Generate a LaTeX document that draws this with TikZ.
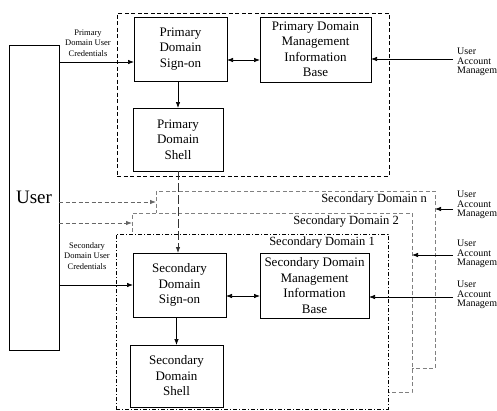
\documentclass[tikz,border=0pt]{standalone}
\usepackage{fontspec}
\setmainfont{Liberation Serif}
\usetikzlibrary{arrows.meta,calc}
\begin{document}
\begin{tikzpicture}[x=1pt,y=-1pt,
  box/.style={draw, line width=0.8pt, inner sep=0pt, outer sep=0pt, align=center,
    fill=white, anchor=north west, font=\fontsize{13}{15.5}\selectfont},
  frame/.style={inner sep=0pt, outer sep=0pt, anchor=north west},
  pdom/.style={frame, draw, line width=0.8pt, dash pattern=on 4pt off 2.5pt},
  sdom/.style={frame, draw=gray, fill=white, line width=0.8pt, dash pattern=on 4pt off 2.5pt},
  sdone/.style={frame, draw, fill=white, line width=0.8pt, dash pattern=on 4pt off 2pt on 1pt off 2pt},
  arr/.style={line width=0.7pt, -{Latex[length=6pt,width=4.5pt]}},
  biarr/.style={line width=0.7pt, {Latex[length=6pt,width=4.5pt]}-{Latex[length=6pt,width=4.5pt]}},
  garr/.style={draw=gray!80!black, line width=0.8pt, dash pattern=on 4pt off 2.5pt, -{Latex[length=6pt,width=4.5pt]}},
  longdash/.style={draw=black!80, line width=0.8pt, dash pattern=on 9pt off 3pt, -{Latex[length=6pt,width=4.5pt]}},
  cred/.style={align=center, font=\fontsize{8.5}{10.5}\selectfont},
  uam/.style={align=left, anchor=west, inner sep=0pt, font=\fontsize{10}{9.5}\selectfont},
  dlabel/.style={anchor=north east, inner sep=0pt, font=\fontsize{12.5}{14}\selectfont}
]
\useasboundingbox (0,0) rectangle (497,410);

% secondary domain frames (back to front)
\node[sdom, minimum width=279pt, minimum height=177pt] (sdn) at (156,191) {};
\node[sdom, minimum width=280pt, minimum height=179pt] (sd2) at (132,213) {};
\node[sdone, minimum width=272pt, minimum height=175pt] (sd1) at (116,234) {};
\node[dlabel] (ln) at ([xshift=-8pt,yshift=-3pt]sdn.north east) {Secondary Domain n};
\node[dlabel] (l2) at ([xshift=-13pt,yshift=-3pt]sd2.north east) {Secondary Domain 2};
\node[dlabel] (l1) at ([xshift=-13pt,yshift=-3pt]sd1.north east) {Secondary Domain 1};

% primary domain frame
\node[pdom, minimum width=272pt, minimum height=163pt] (pd) at (117,13) {};

% user
\node[box, minimum width=50pt, minimum height=305pt, font=\fontsize{19}{20}\selectfont] (user) at (9,45) {User};

% primary boxes
\node[box, minimum width=93pt, minimum height=64pt] (pso) at (134,17) {Primary\\Domain\\Sign-on};
\node[box, minimum width=90pt, minimum height=63pt] (psh) at (133,108) {Primary\\Domain\\Shell};
\node[box, minimum width=111pt, minimum height=65pt] (pmib) at (260,17) {Primary Domain\\Management\\Information\\Base};

% secondary boxes
\node[box, minimum width=93pt, minimum height=64pt] (ssn) at (133,253) {Secondary\\Domain\\Sign-on};
\node[box, minimum width=93pt, minimum height=62pt] (ssh) at (130,345) {Secondary\\Domain\\Shell};
\node[box, minimum width=109pt, minimum height=65pt] (smib) at (260,253) {Secondary Domain\\Management\\Information\\Base};

% credential labels
\node[cred] (pcred) at (88,43) {Primary\\Domain User\\Credentials};
\node[cred] (scred) at (87,256) {Secondary\\Domain User\\Credentials};

% user account management labels
\coordinate (a1) at (453,59);
\coordinate (a2) at (453,209);
\coordinate (a3) at (453,255);
\coordinate (a4) at (453,297);
\node[uam] (u1) at ([xshift=4pt,yshift=-3pt]a1) {User\\Account\\Management};
\node[uam] (u2) at ([xshift=4pt,yshift=4pt]a2) {User\\Account\\Management};
\node[uam] (u3) at ([xshift=4pt,yshift=1pt]a3) {User\\Account\\Management};
\node[uam] (u4) at ([xshift=4pt,yshift=2pt]a4) {User\\Account\\Management};

% primary connectors
\coordinate (c1) at ([yshift=-13pt]pso.west);
\draw[arr] (user.east |- c1) -- (c1);
\coordinate (b1) at ([yshift=-11pt]pso.east);
\draw[biarr] (b1) -- (b1 -| pmib.west);
\draw[arr] (psh.north |- pso.south) -- (psh.north);
\draw[arr] (a1) -- (a1 -| pmib.east);

% secondary connectors
\draw[arr] (user.east |- ssn.west) -- (ssn.west);
\coordinate (b2) at ([yshift=-11pt]ssn.east);
\draw[biarr] (b2) -- (b2 -| smib.west);
\draw[arr] (ssh.north |- ssn.south) -- (ssh.north);
\draw[arr] (a2) -- (a2 -| sdn.east);
\draw[arr] (a3) -- (a3 -| sd2.east);
\draw[arr] (a4) -- (a4 -| smib.east);

% dashed arrows from user to other secondary domains
\path (sdn.north west) ++(0,11) coordinate (d1);
\path (sd2.north west) ++(0,10) coordinate (d2);
\draw[garr] (user.east |- d1) -- (d1);
\draw[garr] (user.east |- d2) -- (d2);

% shell to secondary sign-on
\draw[longdash] (psh.south) -- (psh.south |- ssn.north);
\end{tikzpicture}
\end{document}
